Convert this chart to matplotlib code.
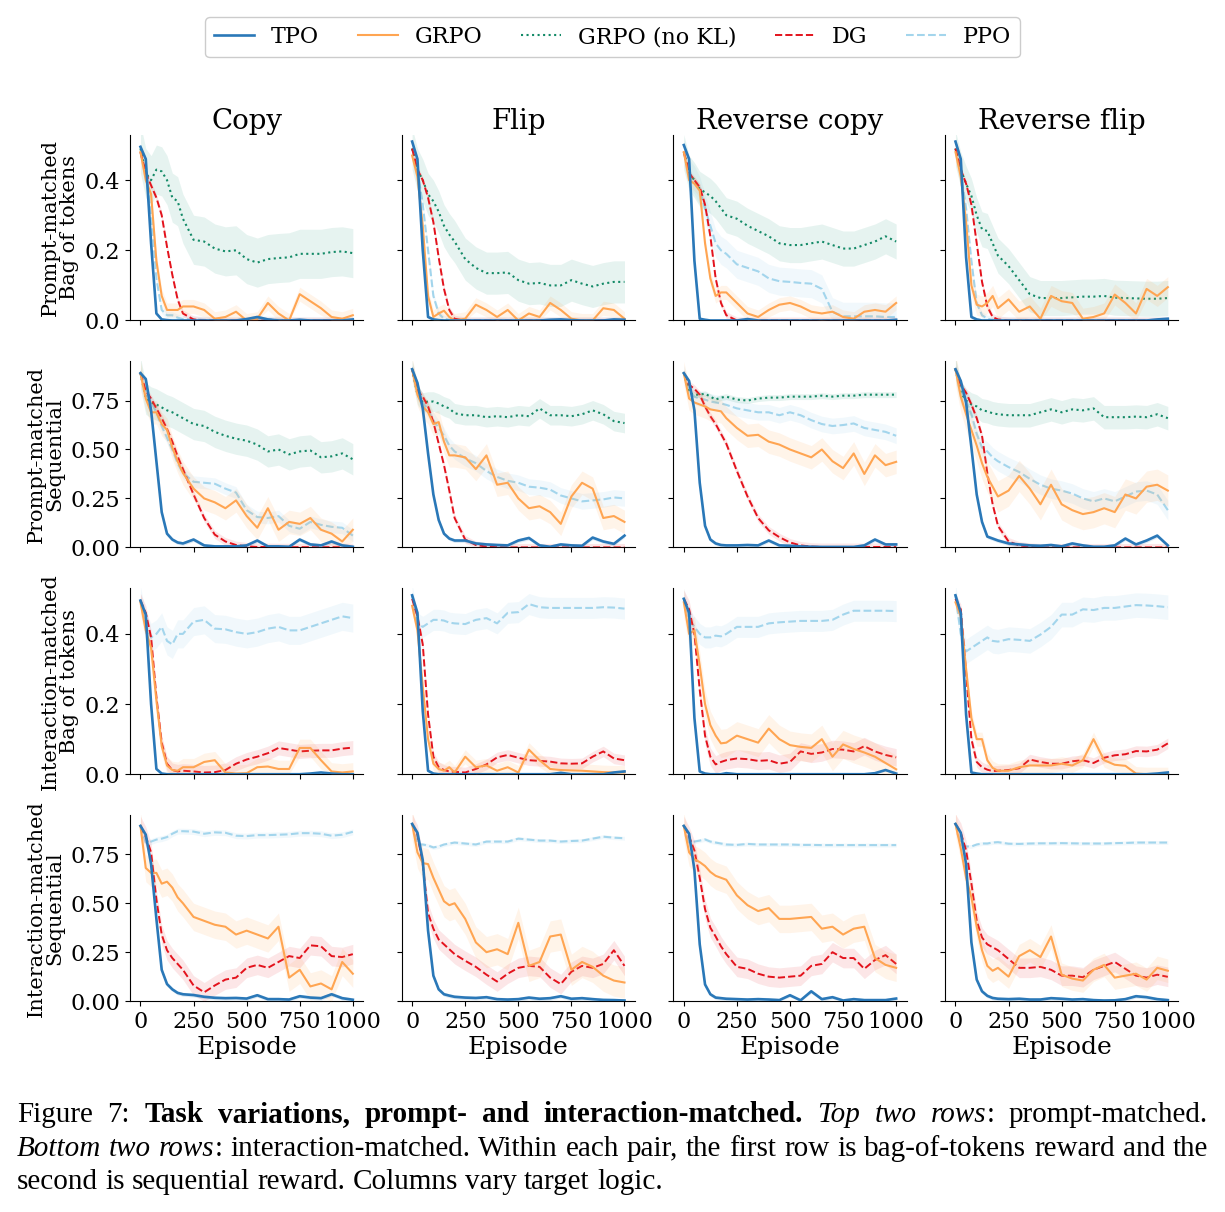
import matplotlib

matplotlib.use("Agg")
import matplotlib.pyplot as plt
from matplotlib.lines import Line2D
from matplotlib.ticker import FormatStrFormatter

plt.rcParams["font.family"] = "DejaVu Serif"

# x grid the values were read on (finer early where curves drop fast)
episodes = [0, 25, 50, 75, 100, 125, 150, 175, 200,
            250, 300, 350, 400, 450, 500, 550, 600, 650, 700, 750, 800, 850, 900, 950, 1000]

columns = ["Copy", "Flip", "Reverse copy", "Reverse flip"]
row_labels = [
    "Prompt-matched\nBag of tokens",
    "Prompt-matched\nSequential",
    "Interaction-matched\nBag of tokens",
    "Interaction-matched\nSequential",
]
series_names = ["TPO", "GRPO", "GRPO (no KL)", "DG", "PPO"]

# ---- row 1: prompt-matched, bag of tokens ----
pb_copy_tpo = [0.495, 0.46, 0.22, 0.02, 0.003, 0.001, 0, 0, 0,
               0, 0, 0, 0, 0, 0.004, 0.01, 0.003, 0, 0, 0.002, 0, 0, 0, 0, 0.003]
pb_copy_grpo = [0.48, 0.40, 0.36, 0.17, 0.07, 0.03, 0.03, 0.03, 0.04,
                0.04, 0.03, 0.005, 0.01, 0.025, 0.0, 0.005, 0.05, 0.02, 0.0, 0.075, 0.055, 0.035, 0.01, 0.005, 0.015]
pb_copy_nokl = [0.49, 0.42, 0.40, 0.43, 0.425, 0.40, 0.35, 0.34, 0.29,
                0.23, 0.225, 0.205, 0.197, 0.20, 0.175, 0.165, 0.175, 0.178, 0.18, 0.19, 0.19, 0.19, 0.195, 0.197, 0.192]
pb_copy_dg = [0.48, 0.42, 0.385, 0.35, 0.30, 0.21, 0.13, 0.06, 0.02,
              0.003, 0, 0, 0, 0, 0, 0, 0, 0, 0, 0, 0, 0, 0, 0, 0]
pb_copy_ppo = [0.48, 0.42, 0.30, 0.12, 0.03, 0.015, 0.015, 0.008, 0.004,
               0.003, 0.002, 0.001, 0, 0, 0.002, 0.004, 0.003, 0.002, 0.001, 0, 0, 0, 0, 0, 0.002]

pb_flip_tpo = [0.51, 0.46, 0.20, 0.01, 0.003, 0.001, 0, 0, 0,
               0, 0, 0, 0, 0, 0, 0, 0, 0.002, 0.003, 0.001, 0, 0, 0, 0.003, 0.002]
pb_flip_grpo = [0.47, 0.41, 0.27, 0.07, 0.01, 0.02, 0.028, 0.01, 0.0,
                0.005, 0.045, 0.03, 0.01, 0.03, 0.0, 0.02, 0.01, 0.05, 0.03, 0.005, 0.0, 0.0, 0.035, 0.03, 0.005]
pb_flip_nokl = [0.49, 0.43, 0.40, 0.36, 0.34, 0.31, 0.27, 0.245, 0.225,
                0.175, 0.15, 0.135, 0.135, 0.137, 0.115, 0.105, 0.107, 0.10, 0.10, 0.115, 0.105, 0.097, 0.105, 0.11, 0.11]
pb_flip_dg = [0.49, 0.43, 0.40, 0.35, 0.28, 0.18, 0.09, 0.03, 0.005,
              0, 0, 0, 0, 0, 0, 0, 0, 0, 0, 0, 0, 0, 0, 0, 0]
pb_flip_ppo = [0.49, 0.43, 0.33, 0.20, 0.07, 0.02, 0.005, 0.002, 0,
               0, 0, 0, 0, 0, 0, 0, 0, 0, 0, 0, 0, 0, 0, 0, 0]

pb_rcopy_tpo = [0.50, 0.46, 0.17, 0.005, 0.002, 0, 0, 0, 0,
                0, 0.004, 0, 0, 0, 0, 0, 0, 0, 0, 0, 0, 0, 0, 0, 0.002]
pb_rcopy_grpo = [0.48, 0.40, 0.39, 0.37, 0.22, 0.12, 0.07, 0.08, 0.08,
                 0.05, 0.02, 0.01, 0.03, 0.045, 0.05, 0.04, 0.025, 0.02, 0.025, 0.01, 0.005, 0.025, 0.03, 0.025, 0.05]
pb_rcopy_nokl = [0.48, 0.42, 0.40, 0.375, 0.365, 0.355, 0.34, 0.32, 0.30,
                 0.29, 0.27, 0.255, 0.24, 0.22, 0.215, 0.215, 0.22, 0.225, 0.215, 0.205, 0.205, 0.215, 0.225, 0.24, 0.225]
pb_rcopy_dg = [0.48, 0.42, 0.40, 0.38, 0.33, 0.24, 0.12, 0.05, 0.015,
               0, 0, 0, 0, 0, 0, 0, 0, 0, 0, 0, 0, 0, 0, 0, 0]
pb_rcopy_ppo = [0.48, 0.42, 0.40, 0.37, 0.32, 0.27, 0.22, 0.20, 0.19,
                0.16, 0.15, 0.14, 0.12, 0.112, 0.11, 0.107, 0.105, 0.09, 0.025, 0.012, 0.012, 0.012, 0.012, 0.01, 0.01]

pb_rflip_tpo = [0.51, 0.46, 0.18, 0.01, 0.003, 0, 0, 0, 0,
                0, 0, 0, 0, 0, 0, 0, 0, 0, 0, 0, 0, 0, 0, 0.003, 0.005]
pb_rflip_grpo = [0.48, 0.41, 0.28, 0.10, 0.045, 0.04, 0.05, 0.07, 0.035,
                 0.06, 0.025, 0.04, 0.005, 0.07, 0.055, 0.05, 0.005, 0.01, 0.02, 0.074, 0.05, 0.02, 0.09, 0.07, 0.095]
pb_rflip_nokl = [0.49, 0.43, 0.39, 0.355, 0.30, 0.26, 0.255, 0.22, 0.185,
                 0.155, 0.115, 0.075, 0.064, 0.064, 0.064, 0.066, 0.068, 0.068, 0.07, 0.065, 0.064, 0.063, 0.062, 0.062, 0.064]
pb_rflip_dg = [0.49, 0.43, 0.39, 0.33, 0.22, 0.11, 0.04, 0.01, 0.003,
               0, 0, 0, 0, 0, 0, 0, 0, 0, 0, 0, 0, 0, 0, 0, 0]
pb_rflip_ppo = [0.49, 0.42, 0.32, 0.17, 0.05, 0.015, 0.005, 0.002, 0,
                0, 0, 0, 0, 0, 0, 0, 0, 0, 0, 0, 0, 0, 0, 0, 0]

# ---- row 2: prompt-matched, sequential ----
ps_copy_tpo = [0.89, 0.86, 0.70, 0.44, 0.18, 0.07, 0.04, 0.025, 0.02,
               0.04, 0.01, 0.005, 0.005, 0.005, 0.01, 0.035, 0.005, 0.005, 0.003, 0.04, 0.015, 0.01, 0.03, 0.01, 0.003]
ps_copy_grpo = [0.89, 0.76, 0.69, 0.69, 0.63, 0.60, 0.51, 0.44, 0.38,
                0.30, 0.25, 0.23, 0.20, 0.24, 0.16, 0.10, 0.20, 0.09, 0.13, 0.12, 0.15, 0.09, 0.07, 0.03, 0.09]
ps_copy_nokl = [0.89, 0.76, 0.74, 0.73, 0.715, 0.70, 0.69, 0.675, 0.66,
                0.63, 0.62, 0.59, 0.57, 0.555, 0.545, 0.525, 0.49, 0.50, 0.475, 0.49, 0.495, 0.46, 0.465, 0.48, 0.45]
ps_copy_dg = [0.89, 0.80, 0.76, 0.71, 0.66, 0.605, 0.54, 0.465, 0.40,
              0.27, 0.15, 0.065, 0.03, 0.012, 0.005, 0.002, 0.002, 0.001, 0.001, 0.001, 0.001, 0.001, 0.001, 0.001, 0.001]
ps_copy_ppo = [0.89, 0.78, 0.74, 0.69, 0.62, 0.56, 0.50, 0.43, 0.38,
               0.335, 0.33, 0.325, 0.30, 0.28, 0.19, 0.155, 0.15, 0.16, 0.11, 0.095, 0.13, 0.115, 0.105, 0.10, 0.06]

ps_flip_tpo = [0.91, 0.84, 0.71, 0.48, 0.27, 0.14, 0.07, 0.045, 0.035,
               0.035, 0.02, 0.015, 0.012, 0.01, 0.035, 0.048, 0.01, 0.003, 0.015, 0.01, 0.008, 0.05, 0.03, 0.018, 0.06]
ps_flip_grpo = [0.91, 0.78, 0.72, 0.69, 0.63, 0.64, 0.54, 0.47, 0.47,
                0.46, 0.40, 0.47, 0.32, 0.33, 0.25, 0.20, 0.21, 0.18, 0.12, 0.26, 0.33, 0.30, 0.15, 0.16, 0.13]
ps_flip_nokl = [0.91, 0.78, 0.74, 0.745, 0.745, 0.735, 0.72, 0.71, 0.685,
                0.675, 0.675, 0.665, 0.67, 0.665, 0.675, 0.67, 0.71, 0.675, 0.675, 0.67, 0.68, 0.70, 0.68, 0.645, 0.635]
ps_flip_dg = [0.91, 0.80, 0.77, 0.72, 0.64, 0.53, 0.42, 0.29, 0.15,
              0.04, 0.012, 0.004, 0.001, 0, 0, 0, 0, 0, 0, 0, 0, 0, 0, 0, 0]
ps_flip_ppo = [0.91, 0.80, 0.74, 0.70, 0.65, 0.61, 0.57, 0.52, 0.49,
               0.455, 0.43, 0.39, 0.36, 0.34, 0.33, 0.31, 0.305, 0.295, 0.265, 0.25, 0.235, 0.24, 0.245, 0.255, 0.25]

ps_rcopy_tpo = [0.89, 0.85, 0.70, 0.33, 0.11, 0.04, 0.02, 0.012, 0.01,
                0.01, 0.012, 0.01, 0.035, 0.01, 0.008, 0.005, 0.003, 0.002, 0.002, 0.002, 0.002, 0.01, 0.04, 0.015, 0.015]
ps_rcopy_grpo = [0.89, 0.76, 0.74, 0.73, 0.72, 0.705, 0.70, 0.695, 0.66,
                 0.61, 0.57, 0.575, 0.54, 0.525, 0.50, 0.48, 0.46, 0.50, 0.44, 0.405, 0.48, 0.375, 0.47, 0.42, 0.437]
ps_rcopy_nokl = [0.89, 0.79, 0.78, 0.78, 0.785, 0.77, 0.755, 0.765, 0.77,
                 0.755, 0.75, 0.76, 0.765, 0.765, 0.77, 0.77, 0.77, 0.775, 0.77, 0.775, 0.775, 0.78, 0.78, 0.78, 0.78]
ps_rcopy_dg = [0.89, 0.83, 0.81, 0.78, 0.72, 0.67, 0.63, 0.58, 0.53,
               0.39, 0.26, 0.15, 0.087, 0.052, 0.025, 0.01, 0.004, 0.002, 0.002, 0.002, 0.002, 0.002, 0.002, 0.002, 0.002]
ps_rcopy_ppo = [0.89, 0.80, 0.77, 0.76, 0.755, 0.745, 0.74, 0.735, 0.728,
                0.71, 0.70, 0.69, 0.69, 0.675, 0.69, 0.675, 0.65, 0.63, 0.62, 0.625, 0.633, 0.61, 0.60, 0.59, 0.57]

ps_rflip_tpo = [0.91, 0.85, 0.74, 0.51, 0.27, 0.13, 0.055, 0.045, 0.035,
                0.02, 0.015, 0.01, 0.008, 0.012, 0.005, 0.02, 0.01, 0.003, 0.003, 0.01, 0.045, 0.015, 0.035, 0.06, 0.01]
ps_rflip_grpo = [0.91, 0.77, 0.68, 0.60, 0.52, 0.43, 0.36, 0.31, 0.26,
                 0.29, 0.365, 0.30, 0.22, 0.32, 0.22, 0.19, 0.17, 0.18, 0.20, 0.18, 0.27, 0.25, 0.31, 0.32, 0.29]
ps_rflip_nokl = [0.91, 0.79, 0.75, 0.73, 0.72, 0.70, 0.695, 0.685, 0.68,
                 0.675, 0.675, 0.675, 0.69, 0.705, 0.69, 0.705, 0.70, 0.71, 0.665, 0.665, 0.665, 0.668, 0.665, 0.68, 0.66]
ps_rflip_dg = [0.91, 0.83, 0.79, 0.73, 0.66, 0.57, 0.38, 0.22, 0.11,
               0.03, 0.01, 0.003, 0, 0, 0, 0, 0, 0, 0, 0, 0, 0, 0, 0, 0]
ps_rflip_ppo = [0.91, 0.80, 0.75, 0.68, 0.58, 0.51, 0.49, 0.46, 0.44,
                0.41, 0.385, 0.35, 0.32, 0.30, 0.29, 0.275, 0.25, 0.235, 0.25, 0.235, 0.26, 0.285, 0.29, 0.27, 0.19]

# ---- row 3: interaction-matched, bag of tokens ----
ib_copy_tpo = [0.495, 0.455, 0.20, 0.015, 0.002, 0, 0, 0, 0,
               0, 0, 0, 0, 0, 0, 0, 0, 0, 0, 0, 0.002, 0.005, 0.002, 0, 0]
ib_copy_grpo = [0.49, 0.41, 0.36, 0.21, 0.08, 0.025, 0.012, 0.01, 0.02,
                0.02, 0.035, 0.04, 0.005, 0.002, 0.003, 0.02, 0.022, 0.015, 0.015, 0.075, 0.075, 0.04, 0.008, 0.005, 0.008]
ib_copy_dg = [0.495, 0.46, 0.39, 0.22, 0.09, 0.03, 0.012, 0.008, 0.01,
              0.008, 0.005, 0.006, 0.012, 0.03, 0.042, 0.05, 0.06, 0.075, 0.07, 0.065, 0.067, 0.068, 0.068, 0.073, 0.076]
ib_copy_ppo = [0.495, 0.42, 0.39, 0.40, 0.42, 0.38, 0.37, 0.40, 0.40,
               0.435, 0.44, 0.415, 0.413, 0.405, 0.40, 0.405, 0.415, 0.42, 0.41, 0.41, 0.42, 0.43, 0.44, 0.45, 0.445]

ib_flip_tpo = [0.51, 0.46, 0.18, 0.01, 0.002, 0, 0, 0, 0,
               0, 0, 0, 0, 0, 0, 0, 0, 0, 0.004, 0, 0, 0, 0, 0.005, 0.008]
ib_flip_grpo = [0.48, 0.41, 0.25, 0.10, 0.03, 0.015, 0.01, 0.02, 0.005,
                0.05, 0.02, 0.025, 0.01, 0.02, 0.005, 0.07, 0.04, 0.015, 0.012, 0.011, 0.01, 0.008, 0.006, 0.005, 0.005]
ib_flip_dg = [0.50, 0.45, 0.37, 0.17, 0.05, 0.02, 0.012, 0.008, 0.007,
              0.005, 0.015, 0.028, 0.048, 0.055, 0.047, 0.04, 0.038, 0.036, 0.031, 0.03, 0.031, 0.05, 0.065, 0.045, 0.04]
ib_flip_ppo = [0.51, 0.43, 0.42, 0.43, 0.44, 0.44, 0.438, 0.432, 0.43,
               0.428, 0.44, 0.445, 0.43, 0.46, 0.462, 0.485, 0.476, 0.474, 0.474, 0.474, 0.474, 0.474, 0.476, 0.475, 0.472]

ib_rcopy_tpo = [0.50, 0.46, 0.16, 0.008, 0.002, 0, 0, 0, 0.003,
                0, 0, 0, 0, 0, 0, 0, 0, 0, 0, 0, 0, 0, 0.003, 0.012, 0.002]
ib_rcopy_grpo = [0.49, 0.40, 0.41, 0.31, 0.20, 0.14, 0.11, 0.088, 0.09,
                 0.11, 0.10, 0.09, 0.13, 0.10, 0.083, 0.078, 0.075, 0.10, 0.05, 0.085, 0.072, 0.062, 0.05, 0.032, 0.014]
ib_rcopy_dg = [0.50, 0.47, 0.40, 0.24, 0.11, 0.05, 0.028, 0.035, 0.04,
               0.045, 0.043, 0.038, 0.04, 0.03, 0.035, 0.065, 0.058, 0.062, 0.072, 0.07, 0.065, 0.08, 0.065, 0.055, 0.048]
ib_rcopy_ppo = [0.50, 0.44, 0.42, 0.40, 0.39, 0.39, 0.395, 0.393, 0.40,
                0.42, 0.42, 0.42, 0.43, 0.433, 0.435, 0.437, 0.437, 0.437, 0.44, 0.455, 0.466, 0.466, 0.466, 0.466, 0.465]

ib_rflip_tpo = [0.51, 0.46, 0.17, 0.005, 0.002, 0, 0, 0, 0,
                0, 0, 0, 0, 0, 0, 0, 0, 0, 0, 0, 0, 0, 0, 0.002, 0.005]
ib_rflip_grpo = [0.49, 0.45, 0.30, 0.16, 0.10, 0.10, 0.04, 0.018, 0.01,
                 0.01, 0.02, 0.025, 0.025, 0.025, 0.03, 0.025, 0.04, 0.10, 0.04, 0.027, 0.024, 0.002, 0.0, 0.0, 0.0]
ib_rflip_dg = [0.50, 0.47, 0.29, 0.10, 0.035, 0.02, 0.013, 0.009, 0.01,
               0.012, 0.017, 0.042, 0.035, 0.03, 0.03, 0.037, 0.04, 0.032, 0.047, 0.054, 0.057, 0.066, 0.065, 0.07, 0.088]
ib_rflip_ppo = [0.51, 0.40, 0.35, 0.36, 0.37, 0.38, 0.39, 0.38, 0.378,
                0.385, 0.383, 0.38, 0.398, 0.42, 0.455, 0.455, 0.47, 0.468, 0.474, 0.474, 0.478, 0.482, 0.481, 0.479, 0.476]

# ---- row 4: interaction-matched, sequential ----
is_copy_tpo = [0.895, 0.85, 0.70, 0.42, 0.16, 0.087, 0.06, 0.042, 0.035,
               0.031, 0.022, 0.017, 0.015, 0.016, 0.013, 0.03, 0.01, 0.01, 0.008, 0.025, 0.018, 0.015, 0.035, 0.015, 0.007]
is_copy_grpo = [0.895, 0.68, 0.655, 0.655, 0.60, 0.61, 0.58, 0.53, 0.50,
                0.43, 0.41, 0.39, 0.38, 0.34, 0.36, 0.34, 0.32, 0.38, 0.12, 0.16, 0.075, 0.09, 0.06, 0.20, 0.14]
is_copy_dg = [0.895, 0.84, 0.76, 0.52, 0.34, 0.26, 0.22, 0.19, 0.16,
              0.08, 0.045, 0.08, 0.11, 0.12, 0.17, 0.185, 0.17, 0.20, 0.23, 0.22, 0.285, 0.28, 0.23, 0.225, 0.24]
is_copy_ppo = [0.895, 0.81, 0.815, 0.825, 0.83, 0.838, 0.855, 0.868, 0.868,
               0.866, 0.855, 0.862, 0.86, 0.845, 0.843, 0.848, 0.848, 0.85, 0.852, 0.858, 0.858, 0.855, 0.845, 0.85, 0.865]

is_flip_tpo = [0.905, 0.86, 0.72, 0.36, 0.13, 0.06, 0.035, 0.028, 0.022,
               0.018, 0.016, 0.02, 0.01, 0.008, 0.01, 0.018, 0.012, 0.015, 0.025, 0.012, 0.015, 0.01, 0.006, 0.005, 0.003]
is_flip_grpo = [0.905, 0.76, 0.705, 0.70, 0.63, 0.57, 0.51, 0.49, 0.50,
                0.42, 0.30, 0.25, 0.265, 0.24, 0.40, 0.18, 0.20, 0.33, 0.34, 0.16, 0.20, 0.175, 0.13, 0.105, 0.095]
is_flip_dg = [0.905, 0.85, 0.70, 0.45, 0.37, 0.315, 0.29, 0.265, 0.24,
              0.206, 0.175, 0.135, 0.10, 0.14, 0.17, 0.18, 0.175, 0.12, 0.087, 0.15, 0.18, 0.17, 0.19, 0.26, 0.18]
is_flip_ppo = [0.905, 0.80, 0.80, 0.795, 0.785, 0.79, 0.80, 0.805, 0.81,
               0.805, 0.80, 0.815, 0.815, 0.815, 0.83, 0.825, 0.82, 0.82, 0.815, 0.818, 0.82, 0.83, 0.84, 0.835, 0.832]

is_rcopy_tpo = [0.895, 0.855, 0.67, 0.29, 0.085, 0.035, 0.018, 0.015, 0.012,
                0.01, 0.008, 0.01, 0.008, 0.005, 0.03, 0.004, 0.05, 0.01, 0.02, 0.003, 0.01, 0.005, 0.005, 0.005, 0.013]
is_rcopy_grpo = [0.895, 0.76, 0.725, 0.71, 0.69, 0.66, 0.64, 0.63, 0.62,
                 0.54, 0.49, 0.46, 0.475, 0.42, 0.42, 0.425, 0.43, 0.37, 0.38, 0.34, 0.37, 0.38, 0.22, 0.185, 0.17]
is_rcopy_dg = [0.895, 0.84, 0.77, 0.63, 0.47, 0.375, 0.33, 0.28, 0.24,
               0.175, 0.165, 0.14, 0.125, 0.12, 0.125, 0.13, 0.18, 0.19, 0.25, 0.22, 0.22, 0.165, 0.21, 0.235, 0.19]
is_rcopy_ppo = [0.895, 0.81, 0.815, 0.82, 0.826, 0.815, 0.81, 0.805, 0.80,
                0.798, 0.803, 0.80, 0.80, 0.80, 0.80, 0.798, 0.798, 0.797, 0.797, 0.797, 0.797, 0.797, 0.797, 0.797, 0.797]

is_rflip_tpo = [0.905, 0.86, 0.70, 0.30, 0.11, 0.05, 0.027, 0.016, 0.012,
                0.01, 0.012, 0.008, 0.008, 0.015, 0.012, 0.008, 0.01, 0.005, 0.003, 0.004, 0.01, 0.025, 0.02, 0.01, 0.005]
is_rflip_grpo = [0.905, 0.78, 0.63, 0.53, 0.38, 0.26, 0.18, 0.155, 0.17,
                 0.125, 0.23, 0.26, 0.225, 0.33, 0.135, 0.115, 0.105, 0.16, 0.185, 0.12, 0.13, 0.14, 0.11, 0.17, 0.155]
is_rflip_dg = [0.905, 0.86, 0.77, 0.60, 0.41, 0.325, 0.29, 0.275, 0.26,
               0.215, 0.17, 0.17, 0.175, 0.16, 0.13, 0.13, 0.122, 0.16, 0.18, 0.20, 0.165, 0.13, 0.12, 0.135, 0.124]
is_rflip_ppo = [0.905, 0.80, 0.79, 0.79, 0.80, 0.805, 0.805, 0.81, 0.812,
                0.804, 0.803, 0.805, 0.806, 0.806, 0.807, 0.806, 0.805, 0.805, 0.805, 0.807, 0.808, 0.81, 0.81, 0.81, 0.81]

# half-width of the shaded band, one value per column (Copy, Flip, Rev copy, Rev flip)
band_pb = {"TPO": [0.005, 0.005, 0.005, 0.005], "GRPO": [0.02, 0.02, 0.02, 0.03],
           "GRPO (no KL)": [0.07, 0.06, 0.05, 0.05], "DG": [0.01, 0.01, 0.01, 0.01],
           "PPO": [0.01, 0.01, 0.04, 0.01]}
band_ps = {"TPO": [0.01, 0.01, 0.01, 0.01], "GRPO": [0.06, 0.06, 0.06, 0.08],
           "GRPO (no KL)": [0.08, 0.05, 0.015, 0.06], "DG": [0.02, 0.02, 0.02, 0.02],
           "PPO": [0.03, 0.04, 0.04, 0.05]}
band_ib = {"TPO": [0.003, 0.003, 0.003, 0.003], "GRPO": [0.025, 0.02, 0.04, 0.02],
           "DG": [0.02, 0.015, 0.025, 0.015], "PPO": [0.04, 0.03, 0.03, 0.035]}
band_is = {"TPO": [0.01, 0.01, 0.01, 0.01], "GRPO": [0.07, 0.08, 0.07, 0.06],
           "DG": [0.05, 0.05, 0.05, 0.05], "PPO": [0.015, 0.01, 0.01, 0.01]}

rows = [
    {"TPO": [pb_copy_tpo, pb_flip_tpo, pb_rcopy_tpo, pb_rflip_tpo],
     "GRPO": [pb_copy_grpo, pb_flip_grpo, pb_rcopy_grpo, pb_rflip_grpo],
     "GRPO (no KL)": [pb_copy_nokl, pb_flip_nokl, pb_rcopy_nokl, pb_rflip_nokl],
     "DG": [pb_copy_dg, pb_flip_dg, pb_rcopy_dg, pb_rflip_dg],
     "PPO": [pb_copy_ppo, pb_flip_ppo, pb_rcopy_ppo, pb_rflip_ppo]},
    {"TPO": [ps_copy_tpo, ps_flip_tpo, ps_rcopy_tpo, ps_rflip_tpo],
     "GRPO": [ps_copy_grpo, ps_flip_grpo, ps_rcopy_grpo, ps_rflip_grpo],
     "GRPO (no KL)": [ps_copy_nokl, ps_flip_nokl, ps_rcopy_nokl, ps_rflip_nokl],
     "DG": [ps_copy_dg, ps_flip_dg, ps_rcopy_dg, ps_rflip_dg],
     "PPO": [ps_copy_ppo, ps_flip_ppo, ps_rcopy_ppo, ps_rflip_ppo]},
    {"TPO": [ib_copy_tpo, ib_flip_tpo, ib_rcopy_tpo, ib_rflip_tpo],
     "GRPO": [ib_copy_grpo, ib_flip_grpo, ib_rcopy_grpo, ib_rflip_grpo],
     "DG": [ib_copy_dg, ib_flip_dg, ib_rcopy_dg, ib_rflip_dg],
     "PPO": [ib_copy_ppo, ib_flip_ppo, ib_rcopy_ppo, ib_rflip_ppo]},
    {"TPO": [is_copy_tpo, is_flip_tpo, is_rcopy_tpo, is_rflip_tpo],
     "GRPO": [is_copy_grpo, is_flip_grpo, is_rcopy_grpo, is_rflip_grpo],
     "DG": [is_copy_dg, is_flip_dg, is_rcopy_dg, is_rflip_dg],
     "PPO": [is_copy_ppo, is_flip_ppo, is_rcopy_ppo, is_rflip_ppo]},
]
bands = [band_pb, band_ps, band_ib, band_is]

styles = {
    "TPO": dict(color="#2a78b8", ls="-", lw=1.9, z=6, fill="#2a78b8", alpha=0.15),
    "GRPO": dict(color="#ffa552", ls="-", lw=1.5, z=5, fill="#ffa552", alpha=0.12),
    "GRPO (no KL)": dict(color="#138a67", ls=":", lw=1.5, z=3, fill="#3fa88c", alpha=0.13),
    "DG": dict(color="#e3121c", ls="--", lw=1.4, z=4, fill="#e3121c", alpha=0.10),
    "PPO": dict(color="#a3d5ec", ls="--", lw=1.5, z=2, fill="#a3d5ec", alpha=0.15),
}
draw_order = ["PPO", "GRPO (no KL)", "DG", "GRPO", "TPO"]

fig, axes = plt.subplots(4, 4, figsize=(12.25, 12.12), dpi=100, sharex=True)
fig.subplots_adjust(left=0.106, right=0.962, top=0.889, bottom=0.174, wspace=0.163, hspace=0.22)

for r in range(4):
    seq = r % 2 == 1
    for c in range(4):
        ax = axes[r, c]
        for name in draw_order:
            if name not in rows[r]:
                continue
            st = styles[name]
            y = rows[r][name][c]
            b = bands[r][name][c]
            lo = [max(v - b, 0) for v in y]
            hi = [v + b for v in y]
            ax.fill_between(episodes, lo, hi, color=st["fill"], alpha=st["alpha"], lw=0, zorder=st["z"] - 0.5)
            ax.plot(episodes, y, color=st["color"], ls=st["ls"], lw=st["lw"], zorder=st["z"])
        ax.spines["top"].set_visible(False)
        ax.spines["right"].set_visible(False)
        ax.set_xlim(-50, 1050)
        ax.set_xticks([0, 250, 500, 750, 1000])
        if seq:
            ax.set_ylim(0, 0.95)
            ax.set_yticks([0, 0.25, 0.5, 0.75])
            ax.yaxis.set_major_formatter(FormatStrFormatter("%.2f"))
        else:
            ax.set_ylim(0, 0.53)
            ax.set_yticks([0, 0.2, 0.4])
            ax.yaxis.set_major_formatter(FormatStrFormatter("%.1f"))
        ax.tick_params(labelsize=16)
        if c > 0:
            ax.tick_params(labelleft=False)
        else:
            ax.set_ylabel(row_labels[r], fontsize=15, linespacing=1.0)
        if r == 0:
            ax.set_title(columns[c], fontsize=20, pad=4)
        if r == 3:
            ax.set_xlabel("Episode", fontsize=18, labelpad=2)

handles = [Line2D([], [], color=styles[n]["color"], ls=styles[n]["ls"], lw=styles[n]["lw"]) for n in series_names]
fig.legend(handles, series_names, loc="upper center", bbox_to_anchor=(0.5, 0.995), ncol=5,
           fontsize=16, framealpha=1, handlelength=1.8, columnspacing=1.75, handletextpad=0.75)

# caption: mixed weights/styles, first two lines justified like the paper
caption_lines = [
    [("Figure 7: ", "normal", "normal"), ("Task variations, prompt- and interaction-matched. ", "bold", "normal"),
     ("Top two rows", "normal", "italic"), (": prompt-matched.", "normal", "normal")],
    [("Bottom two rows", "normal", "italic"),
     (": interaction-matched. Within each pair, the first row is bag-of-tokens reward and the", "normal", "normal")],
    [("second is sequential reward. Columns vary target logic.", "normal", "normal")],
]
justify = [True, True, False]
renderer = fig.canvas.get_renderer()
W, H = fig.get_size_inches() * fig.dpi
cap_size = 21
cap_font = "Liberation Serif"
left_px, right_px = 17, 1208
baselines = [1122, 1156, 1189]


def text_width(s, weight, style):
    t = fig.text(0, 0, s, fontsize=cap_size, fontweight=weight, fontstyle=style, family=cap_font)
    w = t.get_window_extent(renderer).width
    t.remove()
    return w


space_w = text_width("a a", "normal", "normal") - text_width("aa", "normal", "normal")

for line, base, just in zip(caption_lines, baselines, justify):
    words = [[]]
    for text, weight, style in line:
        parts = text.split(" ")
        for i, p in enumerate(parts):
            if i > 0:
                words.append([])
            if p:
                words[-1].append((p, weight, style))
    words = [w for w in words if w]
    widths = [sum(text_width(p, wt, st) for p, wt, st in w) for w in words]
    if just and len(words) > 1:
        gap = (right_px - left_px - sum(widths)) / (len(words) - 1)
    else:
        gap = space_w
    x_px = left_px
    for w, ww in zip(words, widths):
        xx = x_px
        for p, wt, st in w:
            fig.text(xx / W, 1 - base / H, p, fontsize=cap_size, fontweight=wt, fontstyle=st,
                     family=cap_font, va="baseline", ha="left")
            xx += text_width(p, wt, st)
        x_px += ww + gap

fig.savefig("out.png", dpi=100)
